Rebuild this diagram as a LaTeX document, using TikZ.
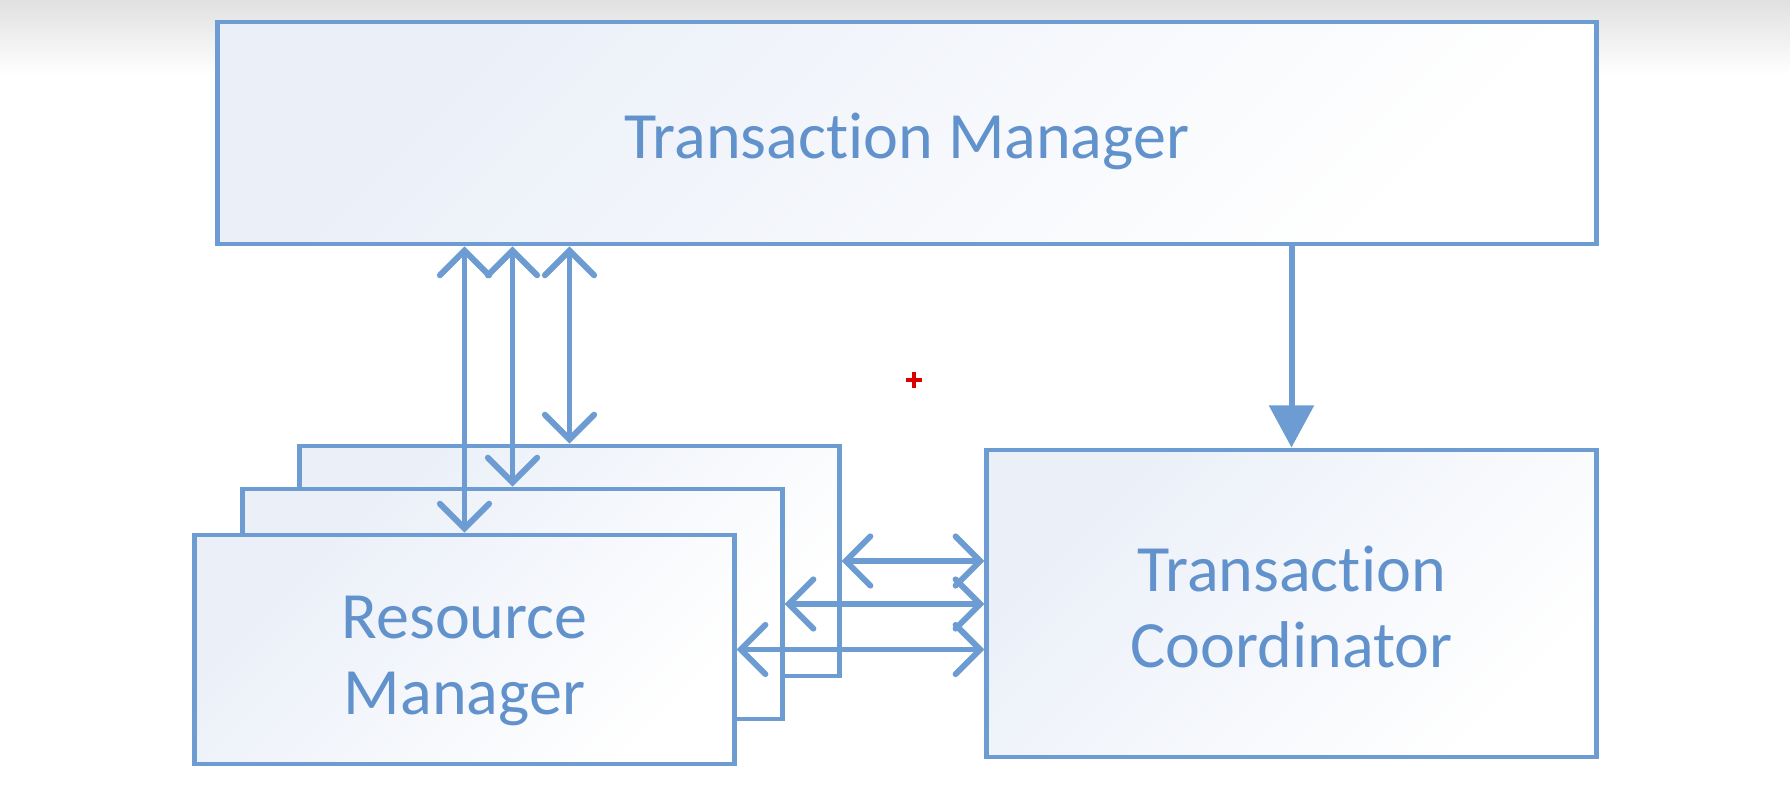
\documentclass[tikz,border=0pt]{standalone}
\usepackage{fontspec}
\setmainfont{Carlito}[Ligatures=NoCommon]
\usetikzlibrary{arrows.meta}
\definecolor{linecol}{RGB}{108,156,210}
\definecolor{textcol}{RGB}{98,146,204}
\definecolor{tint}{RGB}{234,239,248}
\begin{document}
\begin{tikzpicture}[
  x=0.01cm, y=-0.01cm,
  box/.style={rectangle,draw=linecol,line width=1.35pt,inner sep=0pt,text=textcol,align=center,font=\fontsize{18.8}{21.5}\selectfont,top color=tint,bottom color=white,shading angle=45},
  link/.style={draw=linecol,line width=1.7pt,line cap=round,{Straight Barb[length=7pt,width=14pt,line cap=round]}-{Straight Barb[length=7pt,width=14pt,line cap=round]}},
  flow/.style={draw=linecol,line width=1.7pt,-{Triangle[length=12pt,width=12.5pt]}}
]
  \useasboundingbox (0,0) rectangle (1790,812);
  \fill[top color=black!12,bottom color=white] (0,0) rectangle (1790,75);
  \fill[white] (0,75) rectangle (1790,812);
  \node[box,minimum width=13.78cm,minimum height=2.22cm] (tm) at (907,133) {\rule{0pt}{17.5pt}Transaction Manager};
  \node[box,minimum width=5.39cm,minimum height=2.30cm] (rm3) at (569.5,561) {};
  \node[box,minimum width=5.39cm,minimum height=2.30cm] (rm2) at (512.5,604) {};
  \node[box,minimum width=5.39cm,minimum height=2.29cm] (rm) at (464.5,649.5) {\rule{0pt}{18.5pt}Resource\\Manager};
  \node[box,minimum width=6.09cm,minimum height=3.07cm] (tc) at (1291.5,603.5) {\rule{0pt}{15pt}Transaction\\Coordinator};
  \draw[link] (tm.south -| rm.north) -- (rm.north);
  \draw[link] (tm.south -| rm2.north) -- (rm2.north);
  \draw[link] (tm.south -| rm3.north) -- (rm3.north);
  \draw[link] (rm3.east) -- (rm3.east -| tc.west);
  \draw[link] (rm2.east) -- (rm2.east -| tc.west);
  \draw[link] (rm.east) -- (rm.east -| tc.west);
  \draw[flow] (tm.south -| tc.north) -- (tc.north);
  % cursor mark
  \draw[red!85!black,line width=0.9pt] (906,380) -- (922,380) (914,372) -- (914,388);
\end{tikzpicture}
\end{document}
